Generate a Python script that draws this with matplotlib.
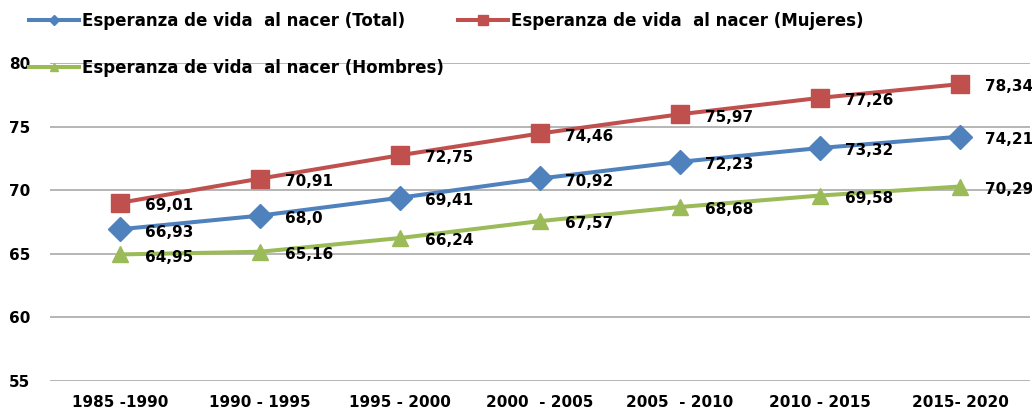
import matplotlib.pyplot as plt
from matplotlib.lines import Line2D

periods = ["1985 -1990", "1990 - 1995", "1995 - 2000", "2000  - 2005",
           "2005  - 2010", "2010 - 2015", "2015- 2020"]
total = [66.93, 68.0, 69.41, 70.92, 72.23, 73.32, 74.21]
mujeres = [69.01, 70.91, 72.75, 74.46, 75.97, 77.26, 78.34]
hombres = [64.95, 65.16, 66.24, 67.57, 68.68, 69.58, 70.29]

series = [
    ("Esperanza de vida  al nacer (Total)", total, "#4F81BD", "D", 12, 5),
    ("Esperanza de vida  al nacer (Mujeres)", mujeres, "#C0504D", "s", 12.5, 7),
    ("Esperanza de vida  al nacer (Hombres)", hombres, "#9BBB59", "^", 12, 6),
]

fig = plt.figure(figsize=(10.32, 4.15), dpi=100)
ax = fig.add_axes([50 / 1032, 34 / 415, 980 / 1032, 318 / 415])

x = list(range(len(periods)))
handles = {}
for name, vals, col, mk, ms, lms in series:
    ax.plot(x, vals, color=col, lw=2.9, marker=mk, ms=ms, label=name)
    handles[name] = Line2D([], [], color=col, lw=2.9, marker=mk, ms=lms)
    for xi, v in zip(x, vals):
        ax.annotate(str(v).replace(".", ","), (xi, v), xytext=(18, -2),
                    textcoords="offset points", ha="left", va="center",
                    fontsize=11, fontweight="bold", color="black")

ax.set_xlim(-0.5, len(periods) - 0.5)
ax.set_ylim(55, 80)
ax.set_yticks([55, 60, 65, 70, 75, 80])
ax.set_xticks(x)
ax.set_xticklabels(periods, fontsize=11, fontweight="bold")
for lab in ax.get_yticklabels():
    lab.set_fontsize(11)
    lab.set_fontweight("bold")
ax.tick_params(axis="both", length=0)
ax.tick_params(axis="y", pad=14)
ax.tick_params(axis="x", pad=10)
ax.grid(axis="y", color="#b0b0b0", lw=1.3)
ax.set_axisbelow(True)
for s in ax.spines.values():
    s.set_visible(False)

names = [series[0][0], series[2][0], series[1][0]]
fig.legend([handles[n] for n in names], names, ncol=2, loc="upper left",
           bbox_to_anchor=(14 / 1032, 1 + 3 / 415), frameon=False,
           prop={"size": 12, "weight": "bold"}, handlelength=3.0,
           handletextpad=0.15, columnspacing=0.9, labelspacing=1.75)

fig.savefig("out.png", dpi=100)
